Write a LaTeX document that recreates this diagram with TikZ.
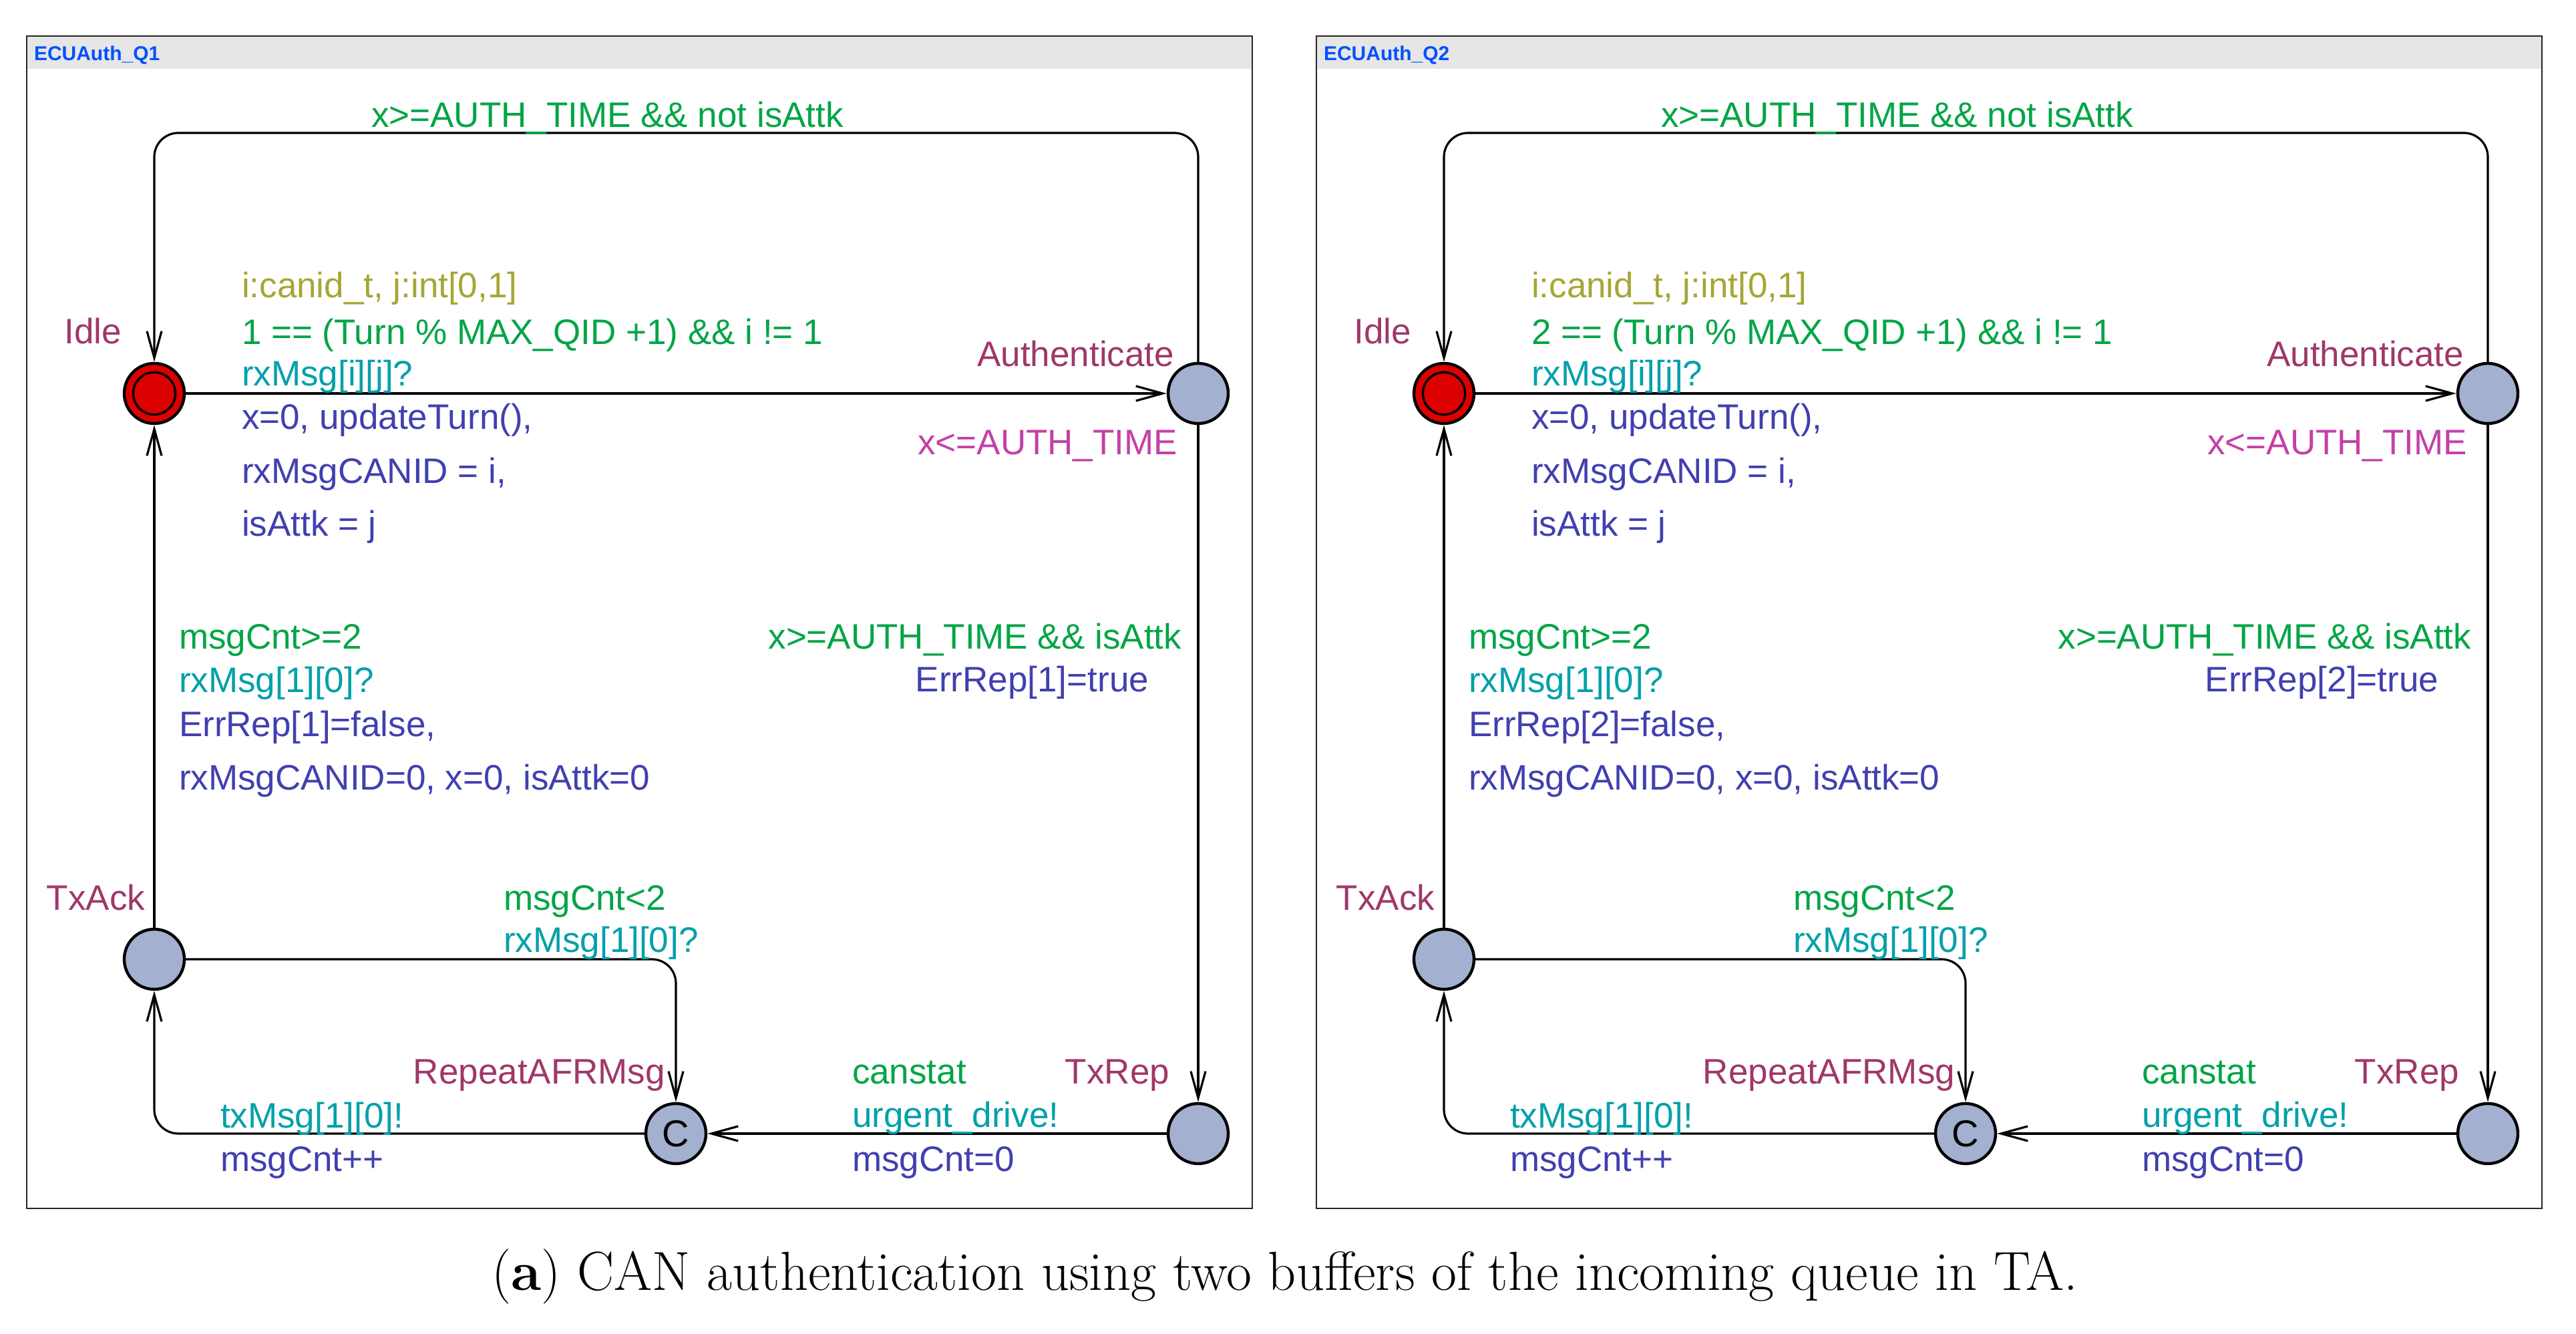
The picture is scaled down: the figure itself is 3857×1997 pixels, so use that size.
\documentclass[tikz,border=0pt]{standalone}
\usepackage{fontspec}
\newfontfamily\uf{Liberation Sans}
\usetikzlibrary{arrows.meta}
\definecolor{locname}{RGB}{160,55,105}
\definecolor{guardc}{RGB}{0,165,70}
\definecolor{syncc}{RGB}{0,160,170}
\definecolor{updc}{RGB}{64,64,176}
\definecolor{invc}{RGB}{196,64,168}
\definecolor{selc}{RGB}{166,166,54}
\definecolor{locfill}{RGB}{163,176,207}
\definecolor{initfill}{RGB}{221,0,0}
\definecolor{titlec}{RGB}{0,80,255}
\definecolor{headc}{RGB}{230,230,230}
\begin{document}
\begin{tikzpicture}[x=0.25pt,y=-0.25pt,
  lab/.style={font=\uf\fontsize{13.25pt}{16pt}\selectfont, inner sep=0pt, outer sep=0pt},
  lw/.style={lab, anchor=base west},
  le/.style={lab, anchor=base east},
  loc/.style={circle, draw=black, line width=1.1pt, fill=locfill, minimum size=22.5pt, inner sep=0pt},
  edge/.style={line width=0.8pt, -{Straight Barb[length=10pt,width=5.5pt,line width=0.8pt]}, rounded corners=9pt},
  frame/.style={line width=0.65pt, draw=black!85},
]
\useasboundingbox (0,0) rectangle (3857,1997);
\fill[white] (0,0) rectangle (3857,1997);

\foreach \s/\k in {0/1,1931/2}{
\begin{scope}[xshift=\s*0.25pt]
  \fill[headc] (40,54) rectangle (1875,103);
  \draw[frame] (40,54) rectangle (1875,1809);
  \node[lw, font=\uf\bfseries\fontsize{7.5pt}{8pt}\selectfont, text=titlec] (title\k) at (51,91) {ECUAuth\_Q\k};

  % locations
  \node[loc, fill=initfill] (idle\k) at (231,589) {};
  \draw[line width=0.85pt] (idle\k.center) circle[radius=7.9pt];
  \node[loc] (auth\k) at (1794,589) {};
  \node[loc] (txack\k) at (231,1436) {};
  \node[loc, font=\uf\fontsize{14pt}{16pt}\selectfont] (rep\k) at (1012,1697) {C};
  \node[loc] (txrep\k) at (1794,1697) {};

  % location names and invariant
  \node[le, text=locname] (nidle\k) at (182,515) {Idle};
  \node[le, text=locname] (nauth\k) at (1758,549) {Authenticate};
  \node[le, text=invc] (inv\k) at (1763,681) {x<=AUTH\_TIME};
  \node[le, text=locname] (ntxack\k) at (217,1363) {TxAck};
  \node[le, text=locname] (nrep\k) at (996,1623) {RepeatAFRMsg};
  \node[le, text=locname] (ntxrep\k) at (1751,1623) {TxRep};

  % edges
  \coordinate (top\k) at (1000,199);
  \draw[edge] (idle\k) -- (auth\k);
  \draw[edge] (auth\k.north) |- (top\k) -| (idle\k.north);
  \draw[edge] (auth\k) -- (txrep\k);
  \draw[edge] (txrep\k) -- (rep\k);
  \draw[edge] (rep\k.west) -| (txack\k.south);
  \draw[edge] (txack\k.east) -| (rep\k.north);
  \draw[edge] (txack\k) -- (idle\k);

  % edge labels
  \node[lw, text=guardc] (g1\k) at (556,191) {x>=AUTH\_TIME \&\& not isAttk};

  \node[lw, text=selc] (s2\k) at (362,446) {i:canid\_t, j:int[0,1]};
  \node[lw, text=guardc] (g2\k) at (362,516) {\k{} == (Turn \% MAX\_QID +1) \&\& i != 1};
  \node[lw, text=syncc] (y2\k) at (362,578) {rxMsg[i][j]?};
  \node[lw, text=updc] (u2a\k) at (362,643) {x=0, updateTurn(),};
  \node[lw, text=updc] (u2b\k) at (362,724) {rxMsgCANID = i,};
  \node[lw, text=updc] (u2c\k) at (362,803) {isAttk = j};

  \node[le, text=guardc] (g3\k) at (1769,972) {x>=AUTH\_TIME \&\& isAttk};
  \node[le, text=updc] (u3\k) at (1720,1036) {ErrRep[\k]=true};

  \node[lw, text=guardc] (g4\k) at (268,972) {msgCnt>=2};
  \node[lw, text=syncc] (y4\k) at (268,1037) {rxMsg[1][0]?};
  \node[lw, text=updc] (u4a\k) at (268,1103) {ErrRep[\k]=false,};
  \node[lw, text=updc] (u4b\k) at (268,1183) {rxMsgCANID=0, x=0, isAttk=0};

  \node[lw, text=guardc] (g5\k) at (754,1363) {msgCnt<2};
  \node[lw, text=syncc] (y5\k) at (754,1426) {rxMsg[1][0]?};

  \node[lw, text=syncc] (y6\k) at (330,1689) {txMsg[1][0]!};
  \node[lw, text=updc] (u6\k) at (330,1754) {msgCnt++};

  \node[lw, text=guardc] (g7\k) at (1276,1623) {canstat};
  \node[lw, text=syncc] (y7\k) at (1276,1688) {urgent\_drive!};
  \node[lw, text=updc] (u7\k) at (1276,1754) {msgCnt=0};
\end{scope}
}

\node[anchor=base, font=\fontsize{20.6pt}{24pt}\selectfont, inner sep=0pt] (cap) at (1924,1931)
  {(\textbf{a}) CAN authentication using two buffers of the incoming queue in TA.};
\end{tikzpicture}
\end{document}
